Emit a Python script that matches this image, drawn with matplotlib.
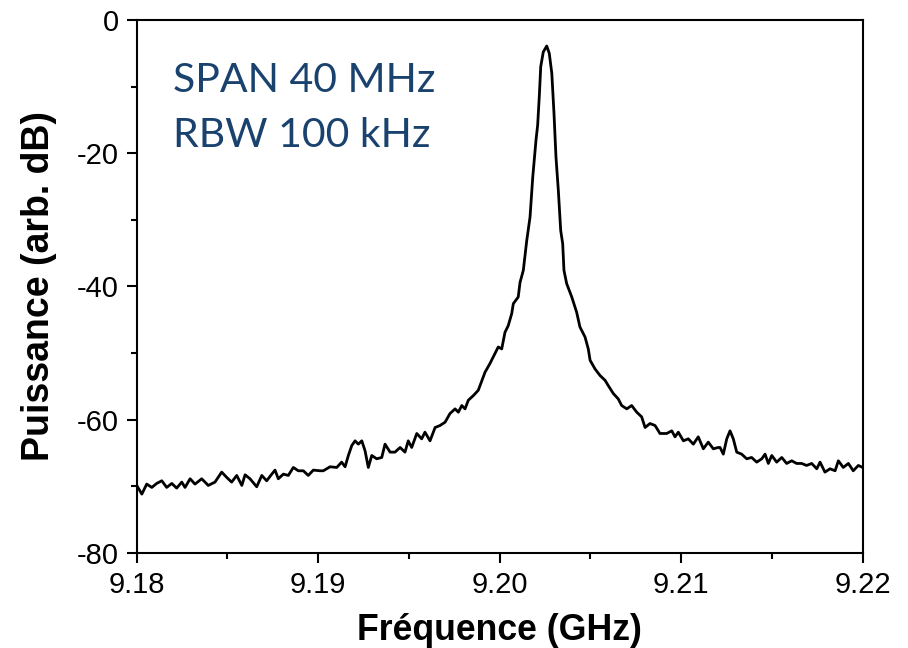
import matplotlib.pyplot as plt

# fréquence en GHz (9.18 + décalage en MHz) et puissance en dB
offset_mhz = [
    0.00, 0.28, 0.55, 0.83, 1.10, 1.38, 1.65, 1.93, 2.20, 2.48,
    2.66, 2.94, 3.21, 3.58, 3.94, 4.31, 4.68, 4.96, 5.23, 5.51,
    5.79, 5.97, 6.24, 6.61, 6.89, 7.16, 7.44, 7.62, 7.80, 8.08,
    8.35, 8.63, 8.90, 9.18, 9.45, 9.73, 10.10, 10.28, 10.65, 11.02,
    11.29, 11.48, 11.66, 11.85, 12.03, 12.21, 12.40, 12.58, 12.76, 12.95,
    13.22, 13.50, 13.68, 13.96, 14.23, 14.51, 14.78, 14.96, 15.15, 15.43,
    15.70, 15.88, 16.16, 16.44, 16.71, 16.99, 17.26, 17.54, 17.72, 17.91,
    18.09, 18.27, 18.55, 18.82, 19.19, 19.46, 19.74, 19.92, 20.11, 20.29,
    20.47, 20.66, 20.75, 21.02, 21.12, 21.30, 21.49, 21.67, 21.82, 22.00,
    22.09, 22.18, 22.26, 22.40, 22.59, 22.73, 22.87, 22.99, 23.10, 23.23,
    23.36, 23.47, 23.54, 23.69, 23.97, 24.24, 24.42, 24.70, 24.88, 24.98,
    25.25, 25.53, 25.80, 25.98, 26.26, 26.53, 26.72, 27.00, 27.27, 27.55,
    27.82, 28.01, 28.28, 28.56, 28.83, 29.20, 29.48, 29.66, 29.84, 30.12,
    30.39, 30.67, 30.94, 31.22, 31.49, 31.77, 32.04, 32.14, 32.32, 32.51,
    32.69, 32.87, 33.06, 33.33, 33.61, 33.88, 34.16, 34.44, 34.62, 34.80,
    34.99, 35.26, 35.54, 35.81, 36.09, 36.36, 36.64, 36.91, 37.19, 37.47,
    37.65, 37.92, 38.20, 38.48, 38.66, 38.93, 39.21, 39.48, 39.76, 40.00,
]
puissance = [
    -69.9, -71.2, -69.7, -70.2, -69.6, -69.2, -70.2, -69.6, -70.3, -69.4,
    -70.2, -68.9, -69.7, -68.9, -69.9, -69.4, -67.9, -68.7, -69.4, -68.4,
    -69.9, -68.3, -68.9, -70.1, -68.4, -69.2, -68.2, -67.6, -68.9, -68.2,
    -68.4, -67.2, -67.7, -67.7, -68.4, -67.6, -67.7, -67.7, -67.1, -67.2,
    -66.4, -67.1, -65.4, -63.9, -63.2, -63.7, -63.2, -64.7, -67.2, -65.4,
    -65.9, -65.7, -63.7, -64.9, -64.9, -64.2, -64.9, -63.2, -64.2, -62.1,
    -62.9, -61.9, -63.2, -61.2, -60.9, -60.4, -59.1, -58.4, -58.9, -57.9,
    -58.4, -57.1, -56.4, -55.6, -52.9, -51.6, -50.1, -49.1, -49.4, -46.9,
    -45.9, -44.1, -42.6, -41.6, -39.4, -37.6, -33.1, -29.6, -23.6, -18.0,
    -15.8, -11.5, -7.0, -4.8, -3.9, -5.0, -8.0, -14.0, -20.6, -25.6,
    -31.6, -33.6, -37.6, -39.6, -41.6, -43.9, -46.1, -47.6, -49.4, -51.1,
    -52.4, -53.4, -54.1, -54.9, -56.1, -56.9, -57.9, -58.4, -57.9, -58.9,
    -59.6, -61.2, -60.6, -60.9, -62.1, -62.1, -61.7, -62.6, -61.9, -63.2,
    -62.9, -63.7, -62.6, -64.4, -63.4, -64.4, -64.2, -64.2, -65.2, -62.9,
    -61.7, -62.9, -64.9, -65.2, -65.9, -65.7, -66.4, -65.9, -65.2, -66.6,
    -65.4, -66.4, -65.7, -66.6, -66.2, -66.6, -66.6, -66.9, -66.6, -67.4,
    -66.4, -67.9, -67.4, -67.7, -66.2, -67.2, -66.6, -67.7, -66.9, -67.2,
]
freq = [9.18 + d / 1000 for d in offset_mhz]

x_ticks = [9.18, 9.19, 9.20, 9.21, 9.22]
x_labels = ['9.18', '9.19', '9.20', '9.21', '9.22']
y_ticks = [-80, -60, -40, -20, 0]

plt.rcParams['font.family'] = ['Liberation Sans', 'DejaVu Sans']
plt.rcParams['axes.unicode_minus'] = False

fig = plt.figure(figsize=(9.08, 6.48), dpi=100)
ax = fig.add_axes([0.1506, 0.1471, 0.7995, 0.822])

ax.plot(freq, puissance, color='black', lw=2.0)

ax.set_xlim(9.18, 9.22)
ax.set_ylim(-80, 0)
ax.set_xticks(x_ticks)
ax.set_xticklabels(x_labels)
ax.set_yticks(y_ticks)
ax.set_xticks([9.185, 9.195, 9.205, 9.215], minor=True)
ax.set_yticks([-70, -50, -30, -10], minor=True)

ax.tick_params(which='major', direction='out', length=7, width=1.5, labelsize=21, pad=6)
ax.tick_params(which='minor', direction='out', length=4, width=1.5)
for s in ax.spines.values():
    s.set_linewidth(1.5)

ax.set_xlabel('Fréquence (GHz)', fontsize=25.7, fontweight='bold', labelpad=10)
ax.set_ylabel('Puissance (arb. dB)', fontsize=27, fontweight='bold', labelpad=14)

bleu = '#1a426e'
ax.text(0.05, 0.865, 'SPAN 40 MHz', transform=ax.transAxes, fontsize=29.5,
        family='Lato', color=bleu, va='baseline')
ax.text(0.05, 0.762, 'RBW 100 kHz', transform=ax.transAxes, fontsize=29.5,
        family='Lato', color=bleu, va='baseline')

fig.savefig('out.png', dpi=100, facecolor='white')
